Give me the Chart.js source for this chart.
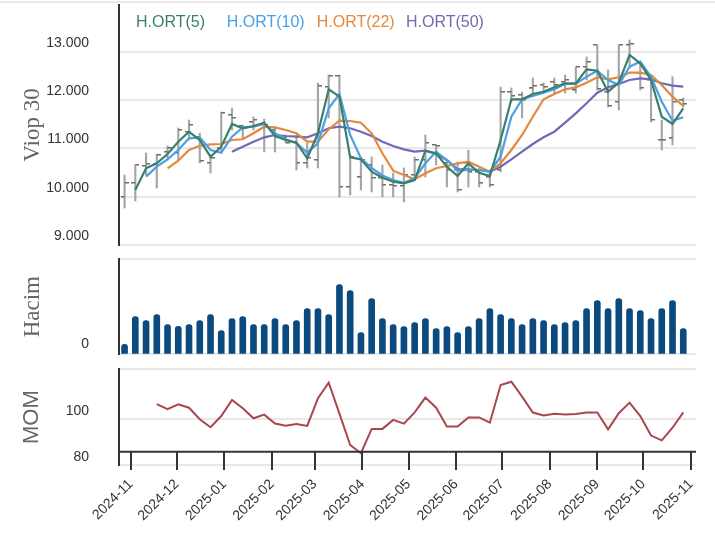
<!DOCTYPE html>
<html><head><meta charset="utf-8">
<script src="https://cdn.jsdelivr.net/npm/chart.js@4.4.1/dist/chart.umd.min.js"></script>
<style>
html,body{margin:0;padding:0;background:#fff;}
#wrap{position:relative;width:715px;height:543px;overflow:hidden;background:#fff;}
canvas{position:absolute;left:0;}
#topline{position:absolute;left:0;top:1px;width:715px;height:2px;background:#e8e8e8;}
</style></head><body>
<div id="wrap">
<div id="topline"></div>
<canvas id="cPrice" width="715" height="250" style="top:0"></canvas>
<canvas id="cVol" width="715" height="110" style="top:250px"></canvas>
<canvas id="cMom" width="715" height="183" style="top:360px"></canvas>
</div>
<script>
const dates = ['2024-10-28','2024-11-04','2024-11-11','2024-11-18','2024-11-25','2024-12-02','2024-12-09','2024-12-16','2024-12-23','2024-12-30',
 '2025-01-06','2025-01-13','2025-01-20','2025-01-27','2025-02-03','2025-02-10','2025-02-17','2025-02-24','2025-03-03','2025-03-10',
 '2025-03-17','2025-03-24','2025-03-31','2025-04-07','2025-04-14','2025-04-21','2025-04-28','2025-05-05','2025-05-12','2025-05-19',
 '2025-05-26','2025-06-02','2025-06-09','2025-06-16','2025-06-23','2025-06-30','2025-07-07','2025-07-14','2025-07-21','2025-07-28',
 '2025-08-04','2025-08-11','2025-08-18','2025-08-25','2025-09-01','2025-09-08','2025-09-15','2025-09-22','2025-09-29','2025-10-06',
 '2025-10-13','2025-10-20','2025-10-27'];
const monthTicks = ['2024-11','2024-12','2025-01','2025-02','2025-03','2025-04','2025-05','2025-06','2025-07','2025-08','2025-09','2025-10','2025-11'];
const priceTicks = [9000,10000,11000,12000,13000];

const open = [9995,10285,10637,10679,10928,10907,11342,11238,10700,11010, 11694,11466,11549,11508,11383,11218,11135,10700,10762,12274,
 12502,10202,10409,10658,10389,10244,10223,10451,10762,11073, 10700,10554,10700,10513,10409,10554,12171,12109,12247,12316,
 12378,12378,12212,12689,13145,12177,11964,13145,12565,12420, 11176,11211,12005];
const high = [10451,10658,10907,10886,11052,11425,11590,11321,10865,11756, 11839,11487,11653,11611,11425,11280,11280,11114,12357,12523,
 12523,10865,10824,10824,10658,10492,10596,10824,11280,11073, 10741,10720,10969,10596,10554,12274,12254,12171,12461,12357,
 12461,12523,12689,12896,13145,12627,13145,13249,12793,12482, 11591,12489,12047];
const low = [9767,9912,10451,10181,10762,10762,11176,10700,10492,10907, 11383,11218,11383,10928,10928,11114,10554,10596,10596,11632,
 9995,10036,10140,10098,9995,9995,9891,10389,10409,10658, 10202,10098,10202,10202,10202,10513,11964,11632,12109,12150,
 12150,12150,12150,12420,12212,11860,11798,12668,12212,11549, 10969,11073,11860];
const close = [10285,10658,10679,10865,11010,11383,11487,10741,10803,11736, 11632,11425,11591,11487,11238,11114,10700,10803,12295,12502,
 10202,10824,10762,10389,10244,10223,10451,10762,11114,11052, 10554,10140,10513,10285,10244,12171,12088,12005,12295,12274,
 12316,12420,12689,12793,12233,11881,13145,13166,12254,11591, 11176,11970,11922];

const ma5 = [null,10140,10590,10693,10886,11141,11348,11176,10830,11037, 11508,11419,11466,11535,11259,11176,11120,10797,11315,12227,
 12074,10818,10776,10519,10395,10312,10279,10347,10954,10900, 10623,10430,10693,10498,10430,11176,12020,12020,12129,12177,
 12268,12351,12351,12641,12612,12177,12364,12938,12766,12420, 11659,11508,11833];
const ma10 = [null,null,10416,10623,10776,10969,11211,11232,10969,10913, 11245,11439,11452,11508,11315,11191,11108,10913,11108,11833,
 12129,11280,10797,10596,10440,10347,10291,10382,10693,10934, 10762,10540,10554,10554,10519,10830,11659,12020,12088,12156,
 12227,12337,12337,12488,12612,12420,12316,12695,12799,12488, 11970,11576,11647];
const ma22 = [null,null,null,null,10590,10747,10969,11058,11087,11093, 11176,11191,11315,11452,11439,11383,11315,11141,11141,11398,
 11576,11570,11535,11315,10900,10540,10451,10362,10486,10590, 10637,10693,10726,10623,10519,10693,10969,11280,11659,12020,
 12129,12227,12268,12364,12476,12434,12476,12571,12571,12523, 12316,12074,11881];
const ma50 = [null,null,null,null,null,null,null,null,null,null, 10934,11037,11141,11232,11280,11259,11245,11232,11315,11419,
 11452,11419,11348,11259,11141,11052,10983,10934,10954,10886, 10762,10569,10569,10554,10519,10623,10776,10934,11093,11232,
 11348,11535,11729,11937,12156,12268,12337,12420,12455,12434, 12351,12302,12281];

const volume = [30,113,101,119,89,84,89,101,119,71, 107,113,89,89,107,89,101,137,137,119,
 209,191,65,167,107,89,83,95,107,77, 83,65,83,107,137,119,107,89,107,101,
 89,95,101,137,161,137,167,137,131,107, 137,161,77];
const mom = [null,null,null,106.5,104.3,106.4,104.9,99.9,96.4,101.3, 108.3,104.7,100.3,101.9,98.0,97.1,97.8,97.0,109.0,115.8,
 102.3,88.7,85.1,95.7,95.7,99.6,98.0,102.9,109.3,104.9, 96.7,96.7,100.7,100.7,98.4,114.8,116.2,109.7,102.8,101.5,
 102.3,102.0,102.2,102.8,102.8,95.5,102.5,107.1,101.3,92.8, 90.7,96.2,102.9];

const DAY0 = Date.UTC(2024,10,1);
function dayOf(s){ const p = s.split('-').map(Number); return (Date.UTC(p[0], p[1]-1, p[2]||1) - DAY0)/86400000; }
const xs = dates.map(dayOf);
const monthDays = monthTicks.map(dayOf);

const X_MIN = -7.62, X_MAX = 368.3;
const GRID = '#e8e8e8', AXIS = '#333', TICK = '#333', TITLE = '#666';
const SANS = "'Liberation Sans', Arial, sans-serif";
const SERIF = "'Liberation Serif', 'Times New Roman', serif";
Chart.defaults.font.family = SANS;
Chart.defaults.animation = false;

function fmt(v){ return String(Math.round(v)).replace(/\B(?=(\d{3})+(?!\d))/g,'.'); }
function pts(arr){ return xs.map((x,i)=>({x:x, y:arr[i]})); }
function tickImg(side){ const c=document.createElement('canvas'); c.width=8; c.height=2; const g=c.getContext('2d'); g.fillStyle='#6e6e6e'; g.fillRect(side==='left'?0:4,0,4,1.5); return c; }

function xHidden(){ return {type:'linear', min:X_MIN, max:X_MAX, offset:false, display:false, grid:{offset:false}}; }
function yAxis(opts){
  return Object.assign({
    position:'left',
    afterFit(s){ s.width = 119; s.paddingTop = 0; s.paddingBottom = 0; },
    grid:{color:GRID, lineWidth:2, drawTicks:false},
    border:{color:AXIS, width:2},
  }, opts);
}
const common = {responsive:false, devicePixelRatio:1, animation:false, events:[],
  plugins:{legend:{display:false}, tooltip:{enabled:false}}};

const legendPlugin = {id:'maLegend', afterDraw(chart){
  const ctx = chart.ctx; ctx.save();
  ctx.font = "16px " + SANS; ctx.textBaseline='middle'; ctx.textAlign='left';
  const lx = [136, 226.7, 316.7, 406];
  chart.data.datasets.filter(d=>d.label).forEach((d,k)=>{ ctx.fillStyle=d.borderColor; ctx.fillText(d.label, lx[k], 23); });
  ctx.restore();
}};

new Chart(document.getElementById('cPrice'), {
  type:'line',
  data:{datasets:[
    {label:'H.ORT(5)', data:pts(ma5), borderColor:'#3a7f6d', borderWidth:2.2, pointRadius:0, order:1},
    {label:'H.ORT(10)', data:pts(ma10), borderColor:'#4ba1e6', borderWidth:2.2, pointRadius:0, order:2},
    {label:'H.ORT(22)', data:pts(ma22), borderColor:'#e3893f', borderWidth:2.2, pointRadius:0, order:3},
    {label:'H.ORT(50)', data:pts(ma50), borderColor:'#7268b6', borderWidth:2.2, pointRadius:0, order:4},
    {type:'bar', data:xs.map((x,i)=>({x:x, y:[low[i],high[i]]})), backgroundColor:'#a6a6a6', barThickness:1.5, order:10},
    {showLine:false, data:pts(open), pointStyle:tickImg('left'), pointRadius:3, order:9},
    {showLine:false, data:pts(close), pointStyle:tickImg('right'), pointRadius:3, order:9},
  ]},
  options:Object.assign({}, common, {
    layout:{padding:{left:0,right:19,top:5,bottom:5}},
    scales:{
      x:xHidden(),
      y:yAxis({min:9000, max:13974,
        afterBuildTicks(s){ s.ticks = priceTicks.map(v=>({value:v})); },
        ticks:{callback:v=>fmt(v), color:TICK, font:{size:14}, padding:30, labelOffset:-9},
        title:{display:true, text:'Viop 30', color:TITLE, font:{family:SERIF, size:23}, padding:{top:19,bottom:0}}
      })
    }
  }),
  plugins:[legendPlugin]
});

new Chart(document.getElementById('cVol'), {
  type:'bar',
  data:{datasets:[{data:pts(volume), backgroundColor:'#0b4a7f', barThickness:6, borderRadius:3, borderSkipped:'start'}]},
  options:Object.assign({}, common, {
    layout:{padding:{left:0,right:19,top:9,bottom:5.7}},
    scales:{
      x:xHidden(),
      y:yAxis({min:0, max:286,
        afterBuildTicks(s){ s.ticks = [{value:0},{value:286}]; },
        ticks:{callback:v=>v===0?'0':'', color:TICK, font:{size:14}, padding:30, labelOffset:-10},
        title:{display:true, text:'Hacim', color:TITLE, font:{family:SERIF, size:23}, padding:{top:19,bottom:0}}
      })
    }
  })
});

const momAxisPlugin = {id:'momAxis', afterDraw(chart){
  const {ctx, chartArea:a, scales:{x}} = chart;
  const yLine = a.bottom - 13.3;
  ctx.save(); ctx.strokeStyle = AXIS; ctx.lineWidth = 2; ctx.beginPath();
  ctx.moveTo(a.left, yLine); ctx.lineTo(a.right, yLine);
  x.ticks.forEach(t=>{ const px = Math.round(x.getPixelForValue(t.value)); ctx.moveTo(px, yLine); ctx.lineTo(px, a.bottom + 5); });
  ctx.stroke(); ctx.restore();
}};

new Chart(document.getElementById('cMom'), {
  type:'line',
  data:{datasets:[{data:pts(mom), borderColor:'#a9464f', borderWidth:2, pointRadius:0}]},
  options:Object.assign({}, common, {
    layout:{padding:{left:0,right:19,top:9.3,bottom:0}},
    scales:{
      x:{type:'linear', min:X_MIN, max:X_MAX, offset:false, position:'bottom',
        afterBuildTicks(s){ s.ticks = monthDays.map(v=>({value:v})); },
        afterFit(s){ s.height = 78; s.paddingLeft = 0; s.paddingRight = 0; },
        ticks:{autoSkip:false, minRotation:45, maxRotation:45, color:TICK, font:{size:14}, padding:3,
          callback:(v,i)=>monthTicks[i]},
        grid:{display:true, drawOnChartArea:false, drawTicks:true, tickLength:8, color:'rgba(0,0,0,0)'},
        border:{display:false}},
      y:yAxis({min:80, max:121.6,
        afterBuildTicks(s){ s.ticks = [{value:80},{value:100},{value:121.6}]; },
        ticks:{callback:v=>(v===80||v===100)?String(v):'', color:TICK, font:{size:14}, padding:30, labelOffset:-8},
        title:{display:true, text:'MOM', color:TITLE, font:{family:SANS, size:22}, padding:{top:19,bottom:0}}
      })
    }
  }),
  plugins:[momAxisPlugin]
});
</script>
</body></html>
